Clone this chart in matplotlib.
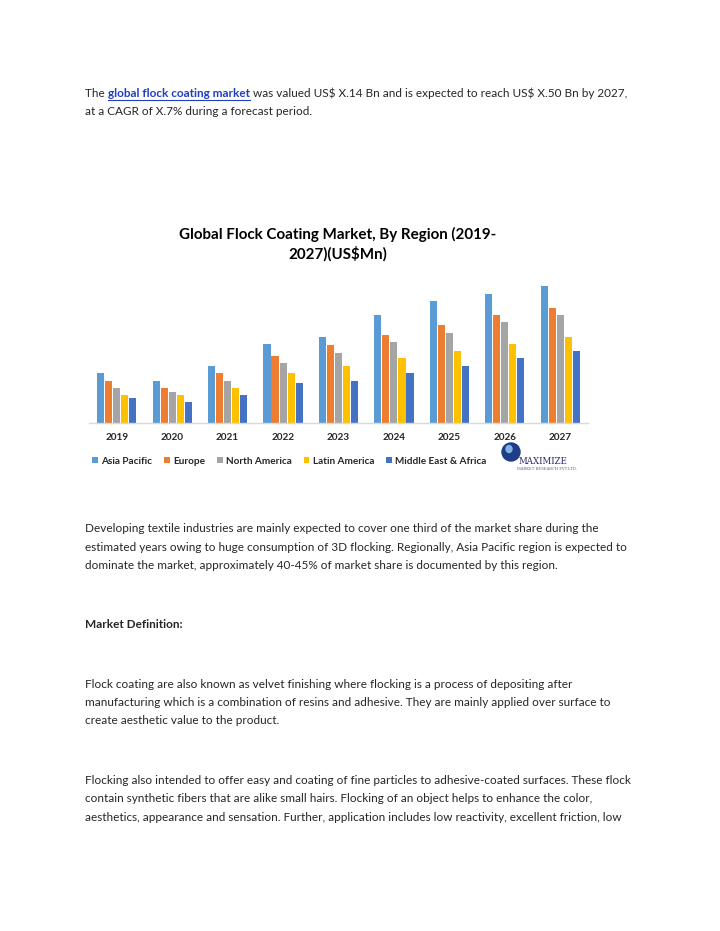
import numpy as np
import matplotlib.pyplot as plt
from matplotlib.patches import Ellipse

plt.rcParams["text.parse_math"] = False

years = ["2019", "2020", "2021", "2022", "2023", "2024", "2025", "2026", "2027"]
regions = ["Asia Pacific", "Europe", "North America", "Latin America", "Middle East & Africa"]
colors = ["#5B9BD5", "#ED7D31", "#A5A5A5", "#FFC000", "#4472C4"]

# estimated bar heights (no axis scale shown in the source)
asia_pacific = [151, 127, 172, 236, 257, 323, 366, 387, 410]
europe = [127, 106, 151, 201, 233, 263, 292, 323, 344]
north_america = [106, 92, 127, 179, 209, 241, 270, 302, 323]
latin_america = [85, 85, 106, 151, 172, 194, 215, 236, 257]
mea = [76, 63, 85, 119, 127, 151, 172, 194, 215]
series = [asia_pacific, europe, north_america, latin_america, mea]

title = "Global Flock Coating Market, By Region (2019-\n2027)(US$Mn)"

para_1b = "was valued US$ X.14 Bn and is expected to reach US$ X.50 Bn by 2027,"
para_1c = "at a CAGR of X.7% during a forecast period."
para_2 = [
    "Developing textile industries are mainly expected to cover one third of the market share during the",
    "estimated years owing to huge consumption of 3D flocking. Regionally, Asia Pacific region is expected to",
    "dominate the market, approximately 40-45% of market share is documented by this region.",
]
para_3 = [
    "Flock coating are also known as velvet finishing where flocking is a process of depositing after",
    "manufacturing which is a combination of resins and adhesive. They are mainly applied over surface to",
    "create aesthetic value to the product.",
]
para_4 = [
    "Flocking also intended to offer easy and coating of fine particles to adhesive-coated surfaces. These flock",
    "contain synthetic fibers that are alike small hairs. Flocking of an object helps to enhance the color,",
    "aesthetics, appearance and sensation. Further, application includes low reactivity, excellent friction, low",
]

W, H = 720, 931
FONT = "Lato"
BODY = 8.5
TXT = "#262626"
LEFT = 85

fig = plt.figure(figsize=(W / 100, H / 100), dpi=100)
fig.patch.set_facecolor("white")


def fy(py):
    return 1 - py / H


def fx(px):
    return px / W


# ---- body text ----
renderer = fig.canvas.get_renderer()
t1 = fig.text(fx(LEFT), fy(93.5), "The ", fontsize=BODY, family=FONT, color=TXT, va="center")
x = t1.get_window_extent(renderer).x1
t2 = fig.text(x / W, fy(93.5), "global flock coating market", fontsize=BODY, family=FONT,
              color="#1F3FBF", weight="bold", va="center")
bb = t2.get_window_extent(renderer)
fig.add_artist(plt.Line2D([bb.x0 / W, bb.x1 / W], [fy(100), fy(100)], color="#1F3FBF", lw=0.8))
fig.text(bb.x1 / W, fy(93.5), " " + para_1b, fontsize=BODY, family=FONT, color=TXT, va="center")
fig.text(fx(LEFT), fy(111.5), para_1c, fontsize=BODY, family=FONT, color=TXT, va="center")

for lines, y0 in [(para_2, 529), (para_3, 684.3), (para_4, 780.7)]:
    for i, line in enumerate(lines):
        fig.text(fx(LEFT), fy(y0 + i * 18.2), line, fontsize=BODY, family=FONT, color=TXT, va="center")
fig.text(fx(LEFT), fy(625), "Market Definition:", fontsize=BODY, family=FONT, color=TXT,
         weight="bold", va="center")

# ---- chart ----
ax = fig.add_axes([fx(89), fy(423), fx(588) - fx(89), fy(276) - fy(423)])
xs = np.arange(len(years))
slot = 0.145
for i, (vals, name, c) in enumerate(zip(series, regions, colors)):
    ax.bar(xs + (i - 2) * slot, vals, width=0.128, color=c, label=name)

ax.set_xlim(-0.5, len(years) - 0.5)
ax.set_ylim(0, 440)
ax.set_yticks([])
ax.set_xticks(xs)
ax.set_xticklabels(years, fontsize=7.2, family=FONT, weight="bold", color="#262626")
ax.tick_params(axis="x", length=0, pad=7)
for s in ["top", "left", "right"]:
    ax.spines[s].set_visible(False)
ax.spines["bottom"].set_color("#D9D9D9")
ax.spines["bottom"].set_linewidth(1)

fig.text(fx(338), fy(244), title, ha="center", va="center", fontsize=10.9, family=FONT,
         weight="bold", color="#000000", linespacing=1.3)

leg = fig.legend(loc="center left", bbox_to_anchor=(fx(88), fy(461)), ncol=5, frameon=False,
                 handlelength=0.55, handleheight=0.55, handletextpad=0.35, columnspacing=1.2,
                 prop={"family": FONT, "weight": "bold", "size": 7.2}, borderaxespad=0)
for t in leg.get_texts():
    t.set_color("#262626")

# ---- logo ----
fig.add_artist(Ellipse((fx(511), fy(452)), 18 / W, 18 / H, color="#1F3C88"))
fig.add_artist(Ellipse((fx(509), fy(449)), 6 / W, 7 / H, color="#7FB2E5"))
fig.text(fx(519), fy(461), "MAXIMIZE", family="DejaVu Serif", fontsize=6.2, color="#2A2A6E",
         va="center", ha="left")
fig.text(fx(517), fy(469), "MARKET RESEARCH PVT.LTD.", family="DejaVu Serif", fontsize=2.7,
         color="#5A5A8A", va="center", ha="left")

fig.savefig("out.png", dpi=100, facecolor="white")
